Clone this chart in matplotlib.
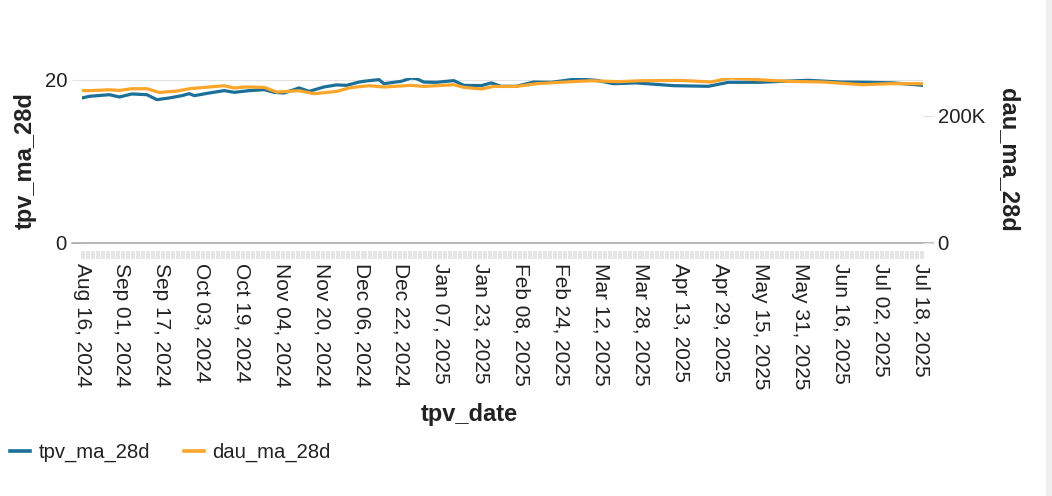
import matplotlib
matplotlib.use("Agg")
import matplotlib.pyplot as plt
from matplotlib.ticker import FuncFormatter
from matplotlib.lines import Line2D
from matplotlib.patches import Rectangle
import pandas as pd

plt.rcParams['font.family'] = ['Liberation Sans', 'DejaVu Sans']

# ---- data ----
start_date = "2024-08-16"
end_date = "2025-07-19"

tpv_dates = ["2024-08-16", "2024-08-19", "2024-08-27", "2024-08-31", "2024-09-05", "2024-09-11",
             "2024-09-15", "2024-09-20", "2024-09-25", "2024-09-28", "2024-09-30", "2024-10-06",
             "2024-10-12", "2024-10-16", "2024-10-22", "2024-10-28", "2024-11-01", "2024-11-05",
             "2024-11-11", "2024-11-15", "2024-11-21", "2024-11-26", "2024-11-30", "2024-12-05",
             "2024-12-07", "2024-12-13", "2024-12-15", "2024-12-22", "2024-12-26", "2024-12-28",
             "2024-12-31", "2025-01-05", "2025-01-12", "2025-01-16", "2025-01-23", "2025-01-27",
             "2025-01-31", "2025-02-06", "2025-02-13", "2025-02-20", "2025-03-02", "2025-03-10",
             "2025-03-17", "2025-03-26", "2025-04-10", "2025-04-24", "2025-05-02", "2025-05-14",
             "2025-06-03", "2025-06-16", "2025-06-27", "2025-07-07", "2025-07-19"]
tpv_ma_28d = [17.75, 17.95, 18.15, 17.87, 18.24, 18.15,
              17.54, 17.75, 18.03, 18.28, 18.03, 18.36,
              18.65, 18.44, 18.65, 18.77, 18.44, 18.36,
              18.98, 18.56, 19.10, 19.35, 19.30, 19.70,
              19.80, 20.00, 19.50, 19.80, 20.20, 20.12,
              19.70, 19.67, 19.88, 19.30, 19.26, 19.60,
              19.18, 19.18, 19.70, 19.67, 20.08, 19.92,
              19.50, 19.60, 19.26, 19.18, 19.67, 19.67,
              19.92, 19.70, 19.67, 19.60, 19.30]

dau_dates = ["2024-08-16", "2024-08-18", "2024-08-27", "2024-08-31", "2024-09-05", "2024-09-11",
             "2024-09-16", "2024-09-23", "2024-09-28", "2024-10-06", "2024-10-12", "2024-10-16",
             "2024-10-20", "2024-10-28", "2024-11-02", "2024-11-11", "2024-11-17", "2024-11-26",
             "2024-12-01", "2024-12-04", "2024-12-09", "2024-12-15", "2024-12-26", "2024-12-31",
             "2025-01-12", "2025-01-16", "2025-01-23", "2025-01-28", "2025-02-06", "2025-02-14",
             "2025-02-26", "2025-03-08", "2025-03-19", "2025-03-28", "2025-04-13", "2025-04-25",
             "2025-05-03", "2025-05-14", "2025-05-27", "2025-06-09", "2025-06-25", "2025-07-06",
             "2025-07-19"]
dau_ma_28d = [240000, 239500, 241000, 240000, 242700, 242700,
              236800, 239000, 242700, 245400, 247400, 243800,
              245400, 244800, 237500, 239500, 234800, 238400,
              243800, 245400, 247400, 245400, 248000, 246300,
              249000, 244800, 242200, 246300, 246300, 250600,
              253300, 255300, 253800, 255300, 255800, 253300,
              259600, 256900, 254200, 253300, 249000, 250600,
              250600]

legend_labels = ["tpv_ma_28d", "dau_ma_28d"]

# ---- axis categories (one per day) ----
all_days = pd.date_range(start_date, end_date, freq="D")
n_days = len(all_days)
t0 = pd.Timestamp(start_date)
tpv_x = [(pd.Timestamp(d) - t0).days for d in tpv_dates]
dau_x = [(pd.Timestamp(d) - t0).days for d in dau_dates]
label_idx = list(range(0, n_days, 16))
label_txt = [all_days[i].strftime("%b %d, %Y") for i in label_idx]

BLUE = "#1c6f98"
ORANGE = "#fba62a"
W, H = 1052, 496

fig = plt.figure(figsize=(W / 100, H / 100), dpi=100)
fig.patches.append(Rectangle((1046 / W, 0), 6 / W, 1, transform=fig.transFigure,
                             color="#efefef", zorder=0))
ax = fig.add_axes([82 / W, (H - 242.5) / H, 841 / W, 164.5 / H])
ax2 = ax.twinx()

ax.plot(tpv_x, tpv_ma_28d, color=BLUE, lw=2.3, solid_joinstyle="round", zorder=3)
ax2.plot(dau_x, dau_ma_28d, color=ORANGE, lw=2.3, solid_joinstyle="round", zorder=3)

ax.set_xlim(0, n_days - 1)
ax.set_ylim(0, max(tpv_ma_28d))
ax2.set_ylim(0, max(dau_ma_28d))

for a in (ax, ax2):
    for s in a.spines.values():
        s.set_visible(False)
ax.spines['bottom'].set_position(('outward', 5.8))

# gridline and zero (domain) line
ax.axhline(20, color="#e2e2e2", lw=0.8, zorder=1)
ax.axhline(0, xmin=-10 / 841, xmax=1 + 10 / 841, color="#a3a3a3", lw=1.1,
           clip_on=False, zorder=2)

# left y axis
ax.set_yticks([0, 20])
ax.tick_params(axis='y', length=7.2, width=0.8, color="#e2e2e2", pad=3.6,
               labelsize=14.6, labelcolor="#222222")
# right y axis
ax2.set_yticks([0, 200000])
ax2.yaxis.set_major_formatter(FuncFormatter(lambda v, p: "0" if v == 0 else f"{int(v/1000)}K"))
ax2.tick_params(axis='y', length=7.2, width=0.8, color="#e2e2e2", pad=3.4,
                labelsize=14.6, labelcolor="#222222")

# x axis: one tick per day, labels every 16 days
ax.set_xticks(range(n_days), minor=True)
ax.set_xticks(label_idx)
ax.set_xticklabels(label_txt, rotation=-90, ha="center", va="top")
ax.tick_params(axis='x', which='both', length=5.5, width=1.1, color="#dedede",
               pad=3.5, labelsize=15, labelcolor="#222222")
ax.tick_params(axis='x', which='minor', labelbottom=False)

# titles
ax.set_ylabel("tpv_ma_28d", fontsize=17, fontweight="bold", color="#222222", va="center")
ax.yaxis.set_label_coords((25 - 82) / 841, 0.5)
ax2.set_ylabel("dau_ma_28d", fontsize=17, fontweight="bold", color="#222222",
               rotation=-90, va="center")
ax2.yaxis.set_label_coords((1008 - 82) / 841, 0.5)
fig.text(469 / W, 1 - 414 / H, "tpv_date", fontsize=17, fontweight="bold",
         color="#222222", ha="center", va="center")

# legend
handles = [Line2D([], [], color=BLUE, lw=2.6), Line2D([], [], color=ORANGE, lw=2.6)]
fig.legend(handles, legend_labels, loc="center left", bbox_to_anchor=(10 / W, 1 - 452.7 / H),
           ncol=2, frameon=False, fontsize=14.6, handlelength=0.98, handletextpad=0.44,
           columnspacing=1.65, borderpad=0, borderaxespad=0, labelcolor="#222222")

fig.savefig("out.png", dpi=100)
